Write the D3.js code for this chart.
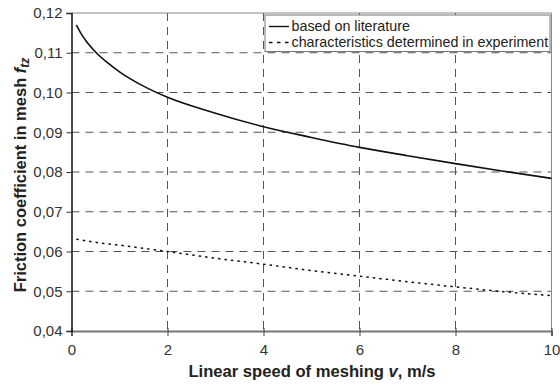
<!DOCTYPE html>
<html lang="en">
	<head>
		<meta charset="utf-8">
		<title>Friction coefficient vs linear speed</title>
		<script src="https://d3js.org/d3.v7.min.js"></script>
		<style type="text/css">
			body { margin: 0; background: #fff; }
			text { font-family: "Liberation Sans", Arial, sans-serif; }
		</style>
	</head>
	<body>
		<script type="text/javascript">

			// data
			var speed = [0.1, 0.2, 0.3, 0.5, 0.75, 1, 1.5, 2, 3, 4, 5, 6, 7, 8, 9, 10];
			var literature = [0.117, 0.1148, 0.1130, 0.1102, 0.1075, 0.1052, 0.1016, 0.0988, 0.0948, 0.0914, 0.0887, 0.0862, 0.0841, 0.0821, 0.0802, 0.0784];
			var experiment = [0.0631, 0.0629, 0.0627, 0.0623, 0.0619, 0.0616, 0.0608, 0.0600, 0.0583, 0.0568, 0.0552, 0.0538, 0.0524, 0.0511, 0.0499, 0.0489];
			var xTicks = [0, 2, 4, 6, 8, 10];
			var yTicks = [0.04, 0.05, 0.06, 0.07, 0.08, 0.09, 0.10, 0.11, 0.12];
			var legendLabels = ["based on literature", "characteristics determined in experiment"];

			//Width and height
			var w = 560;
			var h = 385;
			var mLeft = 71.5, mRight = 551.5, mTop = 13, mBottom = 331;

			var x = d3.scaleLinear().domain([0, 10]).range([mLeft, mRight]);
			var y = d3.scaleLinear().domain([0.04, 0.12]).range([mBottom, mTop]);

			var svg = d3.select("body")
						.append("svg")
						.attr("width", w)
						.attr("height", h);

			var fmt = function(d) { return d3.format(".2f")(d).replace(".", ","); };

			// grid
			svg.selectAll("line.vgrid")
				.data(xTicks.filter(function(d) { return d > 0 && d < 10; }))
				.enter().append("line")
				.attr("x1", function(d) { return x(d); })
				.attr("x2", function(d) { return x(d); })
				.attr("y1", mTop).attr("y2", mBottom)
				.attr("stroke", "#555").attr("stroke-width", 1)
				.attr("stroke-dasharray", "8,6");

			svg.selectAll("line.hgrid")
				.data(yTicks.filter(function(d) { return d > 0.041 && d < 0.119; }))
				.enter().append("line")
				.attr("x1", mLeft).attr("x2", mRight)
				.attr("y1", function(d) { return y(d); })
				.attr("y2", function(d) { return y(d); })
				.attr("stroke", "#555").attr("stroke-width", 1)
				.attr("stroke-dasharray", "8,6");

			// frame top / right
			svg.append("line").attr("x1", mLeft).attr("x2", mRight).attr("y1", mTop).attr("y2", mTop)
				.attr("stroke", "#888").attr("stroke-width", 1);
			svg.append("line").attr("x1", mRight).attr("x2", mRight).attr("y1", mTop).attr("y2", mBottom)
				.attr("stroke", "#888").attr("stroke-width", 1);

			// axes
			var xAxis = d3.axisBottom(x).tickValues(xTicks).tickSize(5).tickPadding(8).tickFormat(d3.format("d"));
			var gx = svg.append("g").attr("transform", "translate(0," + mBottom + ")").call(xAxis);
			gx.select(".domain").attr("stroke", "#777").attr("stroke-width", 2);
			gx.selectAll(".tick line").attr("stroke", "#444").attr("y1", -3);
			gx.selectAll("text").attr("font-size", 15).attr("fill", "#333");

			var yAxis = d3.axisLeft(y).tickValues(yTicks).tickSize(5).tickPadding(4).tickFormat(fmt);
			var gy = svg.append("g").attr("transform", "translate(" + mLeft + ",0)").call(yAxis);
			gy.select(".domain").attr("stroke", "#111").attr("stroke-width", 1.5);
			gy.selectAll(".tick line").attr("stroke", "#333");
			gy.selectAll("text").attr("font-size", 15).attr("fill", "#333");

			// lines
			var line = d3.line()
				.x(function(d) { return x(d[0]); })
				.y(function(d) { return y(d[1]); })
				.curve(d3.curveMonotoneX);

			svg.append("path")
				.datum(d3.zip(speed, literature))
				.attr("d", line)
				.attr("fill", "none")
				.attr("stroke", "#111")
				.attr("stroke-width", 1.6);

			svg.append("path")
				.datum(d3.zip(speed, experiment))
				.attr("d", line)
				.attr("fill", "none")
				.attr("stroke", "#111")
				.attr("stroke-width", 1.5)
				.attr("stroke-dasharray", "2.5,4");

			// legend
			var lg = svg.append("g");
			lg.append("rect").attr("x", 265).attr("y", 15).attr("width", 285).attr("height", 36.5)
				.attr("fill", "#fff").attr("stroke", "#777").attr("stroke-width", 1);
			lg.selectAll("line.leg")
				.data(legendLabels)
				.enter().append("line")
				.attr("x1", 269).attr("x2", 289)
				.attr("y1", function(d, i) { return 26.5 + i * 16; })
				.attr("y2", function(d, i) { return 26.5 + i * 16; })
				.attr("stroke", "#111").attr("stroke-width", 1.4)
				.attr("stroke-dasharray", function(d, i) { return i ? "3.5,4.5" : null; });
			lg.selectAll("text.leg")
				.data(legendLabels)
				.enter().append("text")
				.attr("x", 291.5)
				.attr("y", function(d, i) { return 31 + i * 15.5; })
				.attr("font-size", 14.3)
				.attr("fill", "#222")
				.text(function(d) { return d; });

			// axis titles
			var xt = svg.append("text")
				.attr("x", 312).attr("y", 377)
				.attr("text-anchor", "middle")
				.attr("font-size", 16.6).attr("font-weight", "bold").attr("fill", "#222");
			xt.append("tspan").text("Linear speed of meshing ");
			xt.append("tspan").attr("font-style", "italic").text("v");
			xt.append("tspan").text(", m/s");

			var yt = svg.append("text")
				.attr("transform", "translate(26," + 175 + ") rotate(-90)")
				.attr("text-anchor", "middle")
				.attr("font-size", 16.5).attr("font-weight", "bold").attr("fill", "#222");
			yt.append("tspan").text("Friction coefficient in mesh  ");
			yt.append("tspan").attr("font-style", "italic").text("f");
			yt.append("tspan").attr("font-style", "italic").attr("font-size", 12).attr("dy", 3).text("tz");

		</script>
	</body>
</html>
